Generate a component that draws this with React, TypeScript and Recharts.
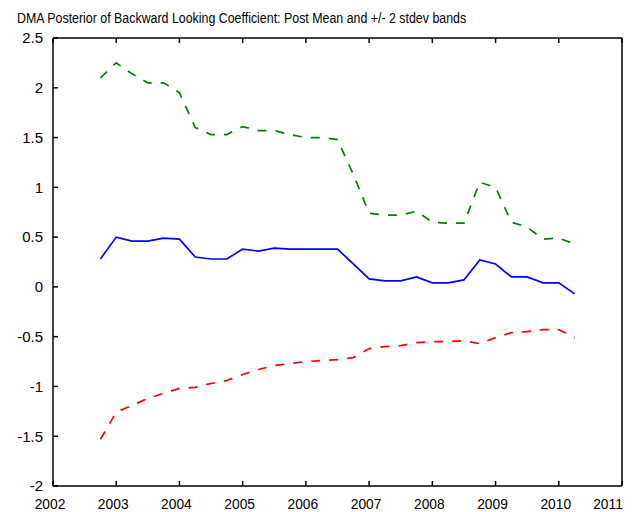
import { LineChart, Line, XAxis, YAxis } from 'recharts';

// quarterly observations, as decimal years
const quarters = [
  2002.75, 2003.0, 2003.25, 2003.5, 2003.75, 2004.0, 2004.25, 2004.5, 2004.75,
  2005.0, 2005.25, 2005.5, 2005.75, 2006.0, 2006.25, 2006.5, 2006.75,
  2007.0, 2007.25, 2007.5, 2007.75, 2008.0, 2008.25, 2008.5, 2008.75,
  2009.0, 2009.25, 2009.5, 2009.75, 2010.0, 2010.25,
];

const postMean = [
  0.28, 0.5, 0.46, 0.46, 0.49, 0.48, 0.3, 0.28, 0.28,
  0.38, 0.36, 0.39, 0.38, 0.38, 0.38, 0.38, 0.23,
  0.08, 0.06, 0.06, 0.1, 0.04, 0.04, 0.07, 0.27,
  0.23, 0.1, 0.1, 0.04, 0.04, -0.07,
];

const upperBand = [
  2.1, 2.25, 2.14, 2.05, 2.05, 1.95, 1.6, 1.53, 1.53,
  1.61, 1.57, 1.57, 1.53, 1.5, 1.5, 1.48, 1.13,
  0.74, 0.72, 0.72, 0.76, 0.65, 0.64, 0.64, 1.05,
  1.0, 0.65, 0.6, 0.48, 0.49, 0.43,
];

const lowerBand = [
  -1.53, -1.26, -1.19, -1.12, -1.07, -1.02, -1.01, -0.97, -0.94,
  -0.88, -0.83, -0.79, -0.77, -0.75, -0.74, -0.73, -0.71,
  -0.62, -0.6, -0.59, -0.56, -0.55, -0.55, -0.54, -0.57,
  -0.51, -0.46, -0.45, -0.43, -0.43, -0.51,
];

const yearTicks = [2002, 2003, 2004, 2005, 2006, 2007, 2008, 2009, 2010, 2011];
const valueTicks = [-2, -1.5, -1, -0.5, 0, 0.5, 1, 1.5, 2, 2.5];

const title = 'DMA Posterior of Backward Looking Coefficient: Post Mean and +/- 2 stdev bands';

const font = "'Liberation Sans', Arial, sans-serif";
const frame = { stroke: '#000', strokeWidth: 1.5 };

// year labels sit a little left of their tick; the last one is kept inside the page
function YearTick(props: any) {
  const { x, y, payload } = props;
  const shift = payload.value === 2011 ? -14 : -3;
  return (
    <text
      x={x + shift}
      y={y + 11}
      textAnchor="middle"
      fontSize={15}
      fontFamily={font}
      fill="#000"
      transform={`translate(${x + shift} 0) scale(0.92 1) translate(${-(x + shift)} 0)`}
    >
      {payload.value}
    </text>
  );
}

export default function App() {
  const data = quarters.map((t, i) => ({
    t,
    mean: postMean[i],
    upper: upperBand[i],
    lower: lowerBand[i],
  }));

  return (
    <div style={{ position: 'absolute', left: 0, top: 0, width: 633, height: 512, background: '#fff' }}>
      <div
        style={{
          position: 'absolute',
          left: 17,
          top: 11,
          fontFamily: font,
          fontSize: 14,
          lineHeight: '14px',
          color: '#000',
          whiteSpace: 'nowrap',
          transform: 'scaleX(0.885)',
          transformOrigin: 'left top',
        }}
      >
        {title}
      </div>
      <LineChart width={633} height={512} data={data} margin={{ top: 0, right: 0, bottom: 0, left: 0 }}>
        <XAxis
          dataKey="t"
          type="number"
          domain={[2002, 2011]}
          ticks={yearTicks}
          interval={0}
          height={26}
          tickSize={-5}
          tickMargin={17}
          tick={<YearTick />}
          axisLine={frame}
          tickLine={frame}
        />
        <XAxis
          xAxisId="top"
          orientation="top"
          dataKey="t"
          type="number"
          domain={[2002, 2011]}
          ticks={yearTicks}
          interval={0}
          height={38}
          tickSize={-5}
          tickFormatter={() => ''}
          axisLine={frame}
          tickLine={frame}
        />
        <YAxis
          type="number"
          domain={[-2, 2.5]}
          ticks={valueTicks}
          interval={0}
          width={53}
          tickSize={-5}
          tickMargin={15}
          tick={{ fontSize: 15, fill: '#000', fontFamily: font }}
          axisLine={frame}
          tickLine={frame}
        />
        <YAxis
          yAxisId="right"
          orientation="right"
          type="number"
          domain={[-2, 2.5]}
          ticks={valueTicks}
          interval={0}
          width={11}
          tickSize={-5}
          tickFormatter={() => ''}
          axisLine={frame}
          tickLine={frame}
        />
        <Line
          type="linear"
          dataKey="upper"
          stroke="#008000"
          strokeWidth={1.7}
          strokeDasharray="9 9"
          dot={false}
          isAnimationActive={false}
        />
        <Line
          type="linear"
          dataKey="mean"
          stroke="#0000ff"
          strokeWidth={1.7}
          dot={false}
          isAnimationActive={false}
        />
        <Line
          type="linear"
          dataKey="lower"
          stroke="#ff0000"
          strokeWidth={1.7}
          strokeDasharray="9 9"
          dot={false}
          isAnimationActive={false}
        />
      </LineChart>
    </div>
  );
}
